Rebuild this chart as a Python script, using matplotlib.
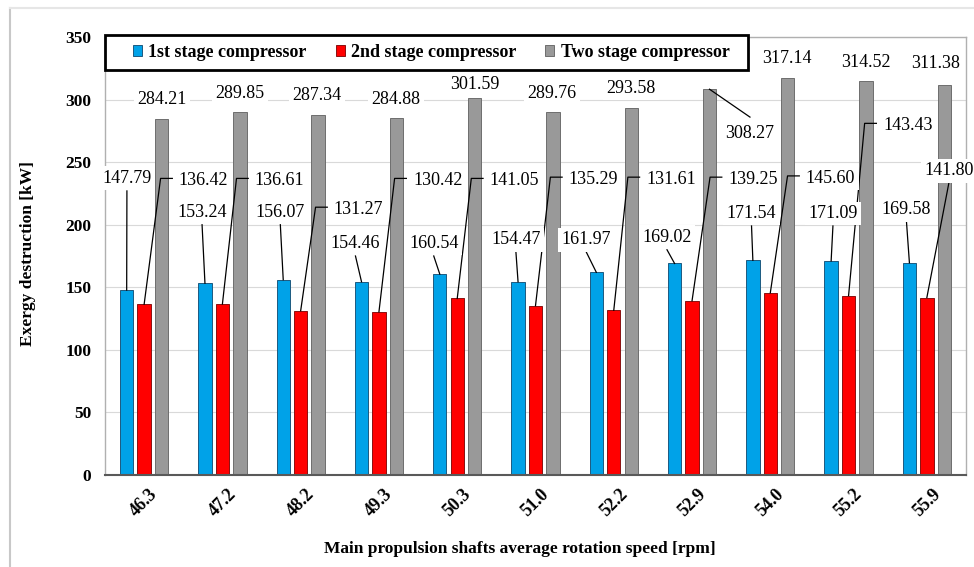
import matplotlib
matplotlib.use("Agg")
import matplotlib.pyplot as plt
from matplotlib.lines import Line2D
from matplotlib.patches import Rectangle

plt.rcParams['font.family'] = ['Liberation Serif', 'DejaVu Serif']

speeds = ["46.3", "47.2", "48.2", "49.3", "50.3", "51.0", "52.2", "52.9", "54.0", "55.2", "55.9"]
first_stage = [147.79, 153.24, 156.07, 154.46, 160.54, 154.47, 161.97, 169.02, 171.54, 171.09, 169.58]
second_stage = [136.42, 136.61, 131.27, 130.42, 141.05, 135.29, 131.61, 139.25, 145.60, 143.43, 141.80]
two_stage = [284.21, 289.85, 287.34, 284.88, 301.59, 289.76, 293.58, 308.27, 317.14, 314.52, 311.38]

# label placement (x offset from group centre, y in data units)
first_lbl_dx = [-0.22, -0.26, -0.26, -0.30, -0.30, -0.25, -0.35, -0.32, -0.24, -0.20, -0.26]
first_lbl_y = [237, 210, 210, 185, 185, 188, 188, 190, 209, 209, 212]
second_lbl_dx = [0.76, 0.73, 0.74, 0.75, 0.73, 0.74, 0.73, 0.78, 0.77, 0.755, 0.28]
second_lbl_y = [235, 235, 212, 235, 235, 236, 236, 236, 237, 279, 243]
two_lbl_dx = [0.23, 0.22, 0.21, 0.22, 0.22, 0.21, 0.22, 0.74, 0.21, 0.22, 0.11]
two_lbl_y = [300, 305, 303, 300, 312, 305, 309, 273, 333, 330, 329]

blue = "#00A2E8"
red = "#FF0000"
grey = "#999999"

fig = plt.figure(figsize=(9.74, 5.67), dpi=100)
ax = fig.add_axes([105 / 974, 1 - 475 / 567, 861 / 974, 438 / 567])

n = len(speeds)
x = list(range(n))
step = 0.223
w = 0.17

ax.bar([i - step for i in x], first_stage, w, color=blue, edgecolor="#1c5a80", linewidth=0.7,
       label="1st stage compressor", zorder=2)
ax.bar(x, second_stage, w, color=red, edgecolor="#8a1010", linewidth=0.7,
       label="2nd stage compressor", zorder=2)
ax.bar([i + step for i in x], two_stage, w, color=grey, edgecolor="#6e6e6e", linewidth=0.7,
       label="Two stage compressor", zorder=2)

box = dict(facecolor="white", edgecolor="none", pad=2.5)
lbl = dict(fontsize=13, ha="center", va="center", zorder=6, bbox=box)
lc = dict(color="black", lw=0.9, zorder=4)

for i in x:
    # 1st stage: straight leader from bar top to label
    tx, ty = i + first_lbl_dx[i], first_lbl_y[i]
    ax.plot([i - step, tx], [first_stage[i], ty - 10], **lc)
    ax.text(tx, ty, f"{first_stage[i]:.2f}", **lbl)

    # 2nd stage: diagonal leader with a short hook
    tx, ty = i + second_lbl_dx[i], second_lbl_y[i]
    if i == n - 1:
        ax.plot([i, tx], [second_stage[i], ty - 10], **lc)
    else:
        ax.plot([i, tx - 0.55, tx - 0.40], [second_stage[i], ty + 2, ty + 2], **lc)
    ax.text(tx, ty, f"{second_stage[i]:.2f}", **lbl)

    # two stage
    tx, ty = i + two_lbl_dx[i], two_lbl_y[i]
    if i == 7:
        ax.plot([i + step, tx], [two_stage[i], ty + 13], **lc)
    ax.text(tx, ty, f"{two_stage[i]:.2f}", **lbl)

ax.set_xlim(-0.5, n - 0.5)
ax.set_ylim(0, 350)
ax.set_yticks(range(0, 351, 50))
ax.set_xticks(x)
ax.set_xticklabels(speeds, rotation=45, fontweight="bold", fontsize=13, ha="center")
ax.tick_params(axis="x", length=0, pad=8)
ax.tick_params(axis="y", length=0, pad=10)
for t in ax.get_yticklabels():
    t.set_fontweight("bold")
    t.set_fontsize(12.5)

ax.grid(axis="y", color="#d9d9d9", lw=0.8, zorder=0)
ax.set_axisbelow(True)
for s in ["left", "right", "top"]:
    ax.spines[s].set_color("#b0b0b0")
    ax.spines[s].set_linewidth(1.0)
ax.spines["bottom"].set_color("#595959")
ax.spines["bottom"].set_linewidth(1.5)

# legend box drawn separately so the padding matches
ax.add_patch(Rectangle((0, 405 / 438), 643 / 861, 35 / 438, transform=ax.transAxes,
                       facecolor="white", edgecolor="black", lw=2, clip_on=False, zorder=7))
leg = ax.legend(loc="center left", bbox_to_anchor=(28 / 861, 422.5 / 438), ncol=3, frameon=False,
                prop={"weight": "bold", "size": 13}, handlelength=0.5, handleheight=0.5,
                handletextpad=0.35, columnspacing=1.6, borderpad=0, borderaxespad=0)
leg.set_zorder(8)

fig.text(28 / 974, 1 - 254 / 567, "Exergy destruction [kW]", rotation=90, ha="center", va="center",
         fontsize=12.5, fontweight="bold")
fig.text(520 / 974, 1 - 549 / 567, "Main propulsion shafts average rotation speed [rpm]",
         ha="center", va="center", fontsize=12.5, fontweight="bold")

# outer frame
fig.add_artist(Line2D([10 / 974, 10 / 974], [0, 1 - 8 / 567], transform=fig.transFigure,
                      color="#c8c8c8", lw=1.5))
fig.add_artist(Line2D([10 / 974, 1], [1 - 8 / 567, 1 - 8 / 567], transform=fig.transFigure,
                      color="#e6e6e6", lw=1.5))

fig.savefig("out.png", dpi=100)
